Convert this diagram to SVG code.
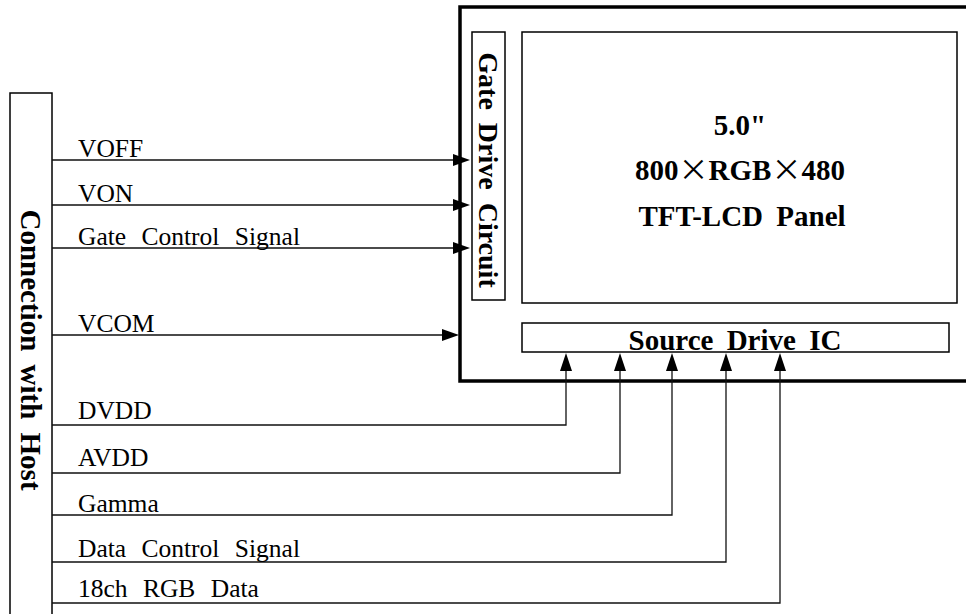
<svg xmlns="http://www.w3.org/2000/svg" width="966" height="614" viewBox="0 0 966 614">
<style>
.box{fill:none;stroke:#000;stroke-width:1.5}
.thick{fill:none;stroke:#000;stroke-width:3.5}
.wire{fill:none;stroke:#111;stroke-width:1.3}
.lbl{font-family:"Liberation Serif","Times New Roman",serif;font-size:25.5px;fill:#000;word-spacing:9px}
.bold{font-family:"Liberation Serif","Times New Roman",serif;font-size:29px;font-weight:bold;fill:#000;word-spacing:6px}
.x{font-family:"Noto Sans CJK SC","DejaVu Sans",sans-serif;font-weight:normal;font-size:30px}
.ah{fill:#000}
</style>
<rect width="966" height="614" fill="#fff"/>
<g id="host">
<rect class="box" x="10" y="93" width="42" height="530"/>
<text class="bold" text-anchor="middle" transform="translate(31,350) rotate(90)" dy="0.35em">Connection with Host</text>
</g>
<g id="panel-module">
<rect class="thick" x="460" y="7" width="520" height="374"/>
</g>
<g id="gate-drive">
<rect class="box" x="472" y="32" width="33" height="268"/>
<text class="bold" text-anchor="middle" transform="translate(488.5,170) rotate(90)" dy="0.35em" style="font-size:28px">Gate Drive Circuit</text>
</g>
<g id="lcd-panel">
<rect class="box" x="522" y="32" width="435" height="271"/>
<text class="bold" text-anchor="middle" x="740" y="135">5.0"</text>
<text class="bold" text-anchor="middle" x="740" y="180">800<tspan class="x">×</tspan>RGB<tspan class="x">×</tspan>480</text>
<text class="bold" text-anchor="middle" x="742" y="226">TFT-LCD Panel</text>
</g>
<g id="source-drive">
<rect class="box" x="522" y="323" width="427" height="29"/>
<text class="bold" text-anchor="middle" x="735" y="350">Source Drive IC</text>
</g>
<g id="connectors">
<path class="wire" d="M52 160H453M52 205H453M52 248H453M52 335H443"/>
<polygon class="ah" points="470,160 453,154 453,166"/>
<polygon class="ah" points="470,205 453,199 453,211"/>
<polygon class="ah" points="470,248 453,242 453,254"/>
<polygon class="ah" points="459,335 442,329 442,341"/>
<path class="wire" d="M52 425H566V370M52 473H620V370M52 515H672V370M52 562H726V370M52 603H780V370"/>
<polygon class="ah" points="566,353 560,371 572,371"/>
<polygon class="ah" points="620,353 614,371 626,371"/>
<polygon class="ah" points="672,353 666,371 678,371"/>
<polygon class="ah" points="726,353 720,371 732,371"/>
<polygon class="ah" points="780,353 774,371 786,371"/>
</g>
<g id="labels">
<text class="lbl" x="78" y="157">VOFF</text>
<text class="lbl" x="78" y="202">VON</text>
<text class="lbl" x="78" y="245">Gate Control Signal</text>
<text class="lbl" x="78" y="332">VCOM</text>
<text class="lbl" x="78" y="419">DVDD</text>
<text class="lbl" x="78" y="466">AVDD</text>
<text class="lbl" x="78" y="512">Gamma</text>
<text class="lbl" x="78" y="557">Data Control Signal</text>
<text class="lbl" x="78" y="597">18ch RGB Data</text>
</g>
</svg>
